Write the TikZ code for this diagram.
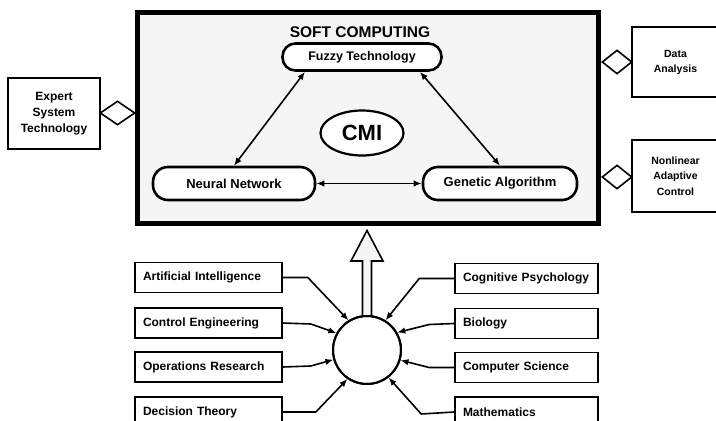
\documentclass[tikz,border=0pt]{standalone}
\usepackage{fontspec}
\setmainfont{Liberation Sans}
\usetikzlibrary{shapes.geometric,arrows.meta,calc}
\tikzset{
  fs/.style={font=\bfseries\fontsize{#1}{#1}\selectfont},
  mainbox/.style={draw, line width=5pt, fill=black!4, minimum width=461pt, minimum height=211pt},
  rbox/.style={draw, line width=2.6pt, fill=white, rounded corners=13pt, inner sep=0pt},
  sidebox/.style={draw, line width=1.6pt, fill=white, align=center, inner sep=0pt},
  dmd/.style={draw, diamond, line width=1.6pt, fill=white, inner sep=0pt, minimum width=#1, minimum height=24pt},
  lsrc/.style={draw, line width=1.6pt, fill=white, minimum height=30pt, inner xsep=8pt, inner ysep=0pt, text width=131pt, align=left, fs=12},
  rsrc/.style={draw, line width=1.6pt, fill=white, minimum height=30pt, inner xsep=8pt, inner ysep=0pt, text width=127pt, align=left, fs=12},
  conn/.style={line width=1.6pt, -{Latex[length=8pt,width=6.5pt]}},
  dconn/.style={line width=1.6pt, {Latex[length=8pt,width=6.5pt]}-{Latex[length=8pt,width=6.5pt]}},
  bigarrow/.style={draw, line width=1.6pt, fill=black!4, line join=miter}
}
\begin{document}
\begin{tikzpicture}[x=1pt,y=-1pt]
\clip (0,0) rectangle (716,421);
\fill[white] (0,0) rectangle (716,421);
% soft computing box
\node[mainbox] (sc) at (367.5,117.5) {};
\node[fs=15.5] (title) at (360,32) {SOFT COMPUTING};
\node[rbox, fs=12.5, minimum width=159pt, minimum height=27pt] (fuzzy) at (362,57) {Fuzzy Technology};
\node[draw, ellipse, line width=2.2pt, fill=white, minimum width=83pt, minimum height=45pt, inner sep=0pt, fs=22] (cmi) at (362,133) {CMI};
\node[rbox, fs=13, minimum width=162pt, minimum height=33pt, rounded corners=15pt] (nn) at (234,183.5) {Neural Network};
\node[rbox, fs=13, minimum width=154pt, minimum height=33pt, rounded corners=15pt] (ga) at (500,183.5) {Genetic Algorithm};
\draw[dconn] (nn.north) -- ($(fuzzy.south)+(-57,0)$);
\draw[dconn] (ga.north) -- ($(fuzzy.south)+(58,0)$);
\draw[dconn] (nn.east) -- (ga.west);
% side boxes
\node[sidebox, minimum width=92pt, minimum height=71pt, font=\bfseries\fontsize{12}{16}\selectfont] (expert) at (54,113.5) {Expert\\System\\Technology};
\node[dmd=35pt] (d1) at (117.5,113) {};
\node[sidebox, minimum width=90pt, minimum height=70pt, font=\bfseries\fontsize{10.5}{15}\selectfont] (data) at (677,62) {\hspace*{-3pt}Data\\\hspace*{-3pt}Analysis};
\node[dmd=30pt] (d2) at (617,62) {};
\node[sidebox, minimum width=90pt, minimum height=72pt, font=\bfseries\fontsize{10.5}{15.5}\selectfont] (nac) at (677,176) {\hspace*{-3pt}Nonlinear\\\hspace*{-3pt}Adaptive\\\hspace*{-3pt}Control};
\node[dmd=30pt] (d3) at (617,177) {};
% hub
\node[draw, circle, line width=2pt, fill=white, minimum size=68pt, inner sep=0pt] (hub) at (367,350) {};
\coordinate (tip) at ($(hub.north |- sc.south)+(0,5)$);
\draw[bigarrow] ($(hub.north)+(-4.5,1)$) -- ($(hub.north)+(-4.5,-54)$) -- ++(-11.5,0) -- (tip)
  -- ($(hub.north)+(16,-54)$) -- ++(-11.5,0) -- ($(hub.north)+(4.5,1)$);
\draw[line width=2pt] (hub) circle[radius=34pt];
% sources
\node[lsrc] (ai) at (208.5,277.5) {\mbox{Artificial Intelligence}};
\node[lsrc] (ce) at (208.5,323) {\mbox{Control Engineering}};
\node[lsrc] (opr) at (208.5,367) {\mbox{Operations Research}};
\node[lsrc] (dt) at (208.5,412) {\mbox{Decision Theory}};
\node[rsrc] (cp) at (526.5,278.5) {\mbox{Cognitive Psychology}};
\node[rsrc] (bio) at (526.5,323.5) {Biology};
\node[rsrc] (cs) at (526.5,367.5) {\mbox{Computer Science}};
\node[rsrc] (math) at (526.5,412) {Mathematics};
\draw[conn] (ai.east) -- ++(25,0) -- (hub.122);
\draw[conn] (ce.east) -- ++(28,1) -- (hub.151);
\draw[conn] (opr.east) -- ++(28,-1) -- (hub.196);
\draw[conn] (dt.east) -- ++(33,0) -- (hub.236);
\draw[conn] (cp.west) -- ++(-35,0) -- (hub.58);
\draw[conn] (bio.west) -- ++(-25,1) -- (hub.30);
\draw[conn] (cs.west) -- ++(-25,0) -- (hub.343);
\draw[conn] (math.west) -- ++(-33,2) -- (hub.308);
\end{tikzpicture}
\end{document}
